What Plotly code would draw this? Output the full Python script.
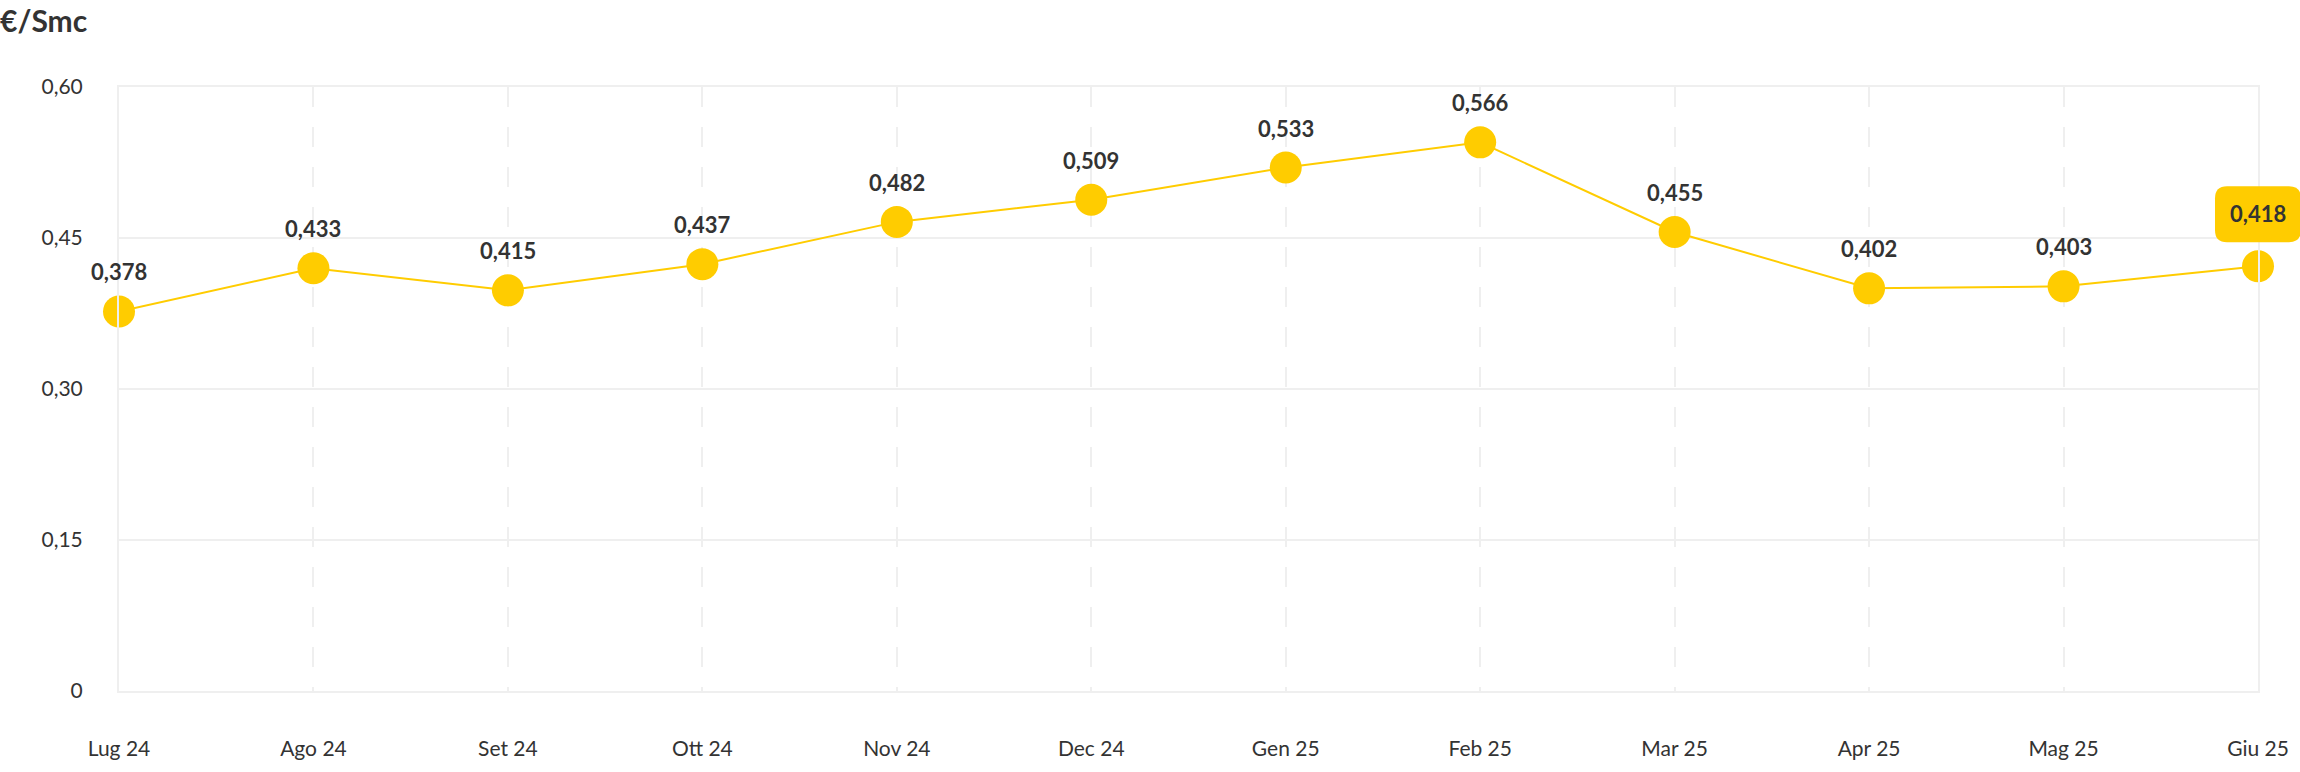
import plotly.graph_objects as go

# months shown on the x axis
months = ["Lug 24", "Ago 24", "Set 24", "Ott 24", "Nov 24", "Dec 24",
          "Gen 25", "Feb 25", "Mar 25", "Apr 25", "Mag 25", "Giu 25"]
# position of the points as drawn in the chart
plotted = [0.377, 0.420, 0.398, 0.424, 0.466, 0.488,
           0.520, 0.545, 0.456, 0.400, 0.402, 0.422]
# values printed above each point
labels = ["0,378", "0,433", "0,415", "0,437", "0,482", "0,509",
          "0,533", "0,566", "0,455", "0,402", "0,403", "0,418"]
y_ticks = [0, 0.15, 0.30, 0.45, 0.60]
y_tick_text = ["0", "0,15", "0,30", "0,45", "0,60"]

YELLOW = "#FFCC00"
TEXT = "#333333"
GRID = "#EFEFEF"
FONT = "Source Sans Pro, Lato, sans-serif"

fig = go.Figure()
fig.add_trace(go.Scatter(
    x=months, y=plotted, mode="lines+markers",
    line=dict(color=YELLOW, width=2),
    marker=dict(color=YELLOW, size=32),
    cliponaxis=False, hoverinfo="skip", showlegend=False,
))

# value labels above the points, the last one sits in a yellow box
for i, (m, v, t) in enumerate(zip(months, plotted, labels)):
    last = i == len(months) - 1
    fig.add_annotation(
        x=m, y=v, text="<b>" + t + "</b>", showarrow=False,
        yanchor="bottom", yshift=37 if last else 24,
        font=dict(family=FONT, size=22, color=TEXT),
    )

fig.add_shape(
    type="path", xref="paper", yref="paper",
    xsizemode="pixel", ysizemode="pixel",
    xanchor=1, yanchor=plotted[-1] / y_ticks[-1],
    path="M -31,24 L 31,24 Q 43,24 43,36 L 43,68 Q 43,80 31,80 "
         "L -31,80 Q -43,80 -43,68 L -43,36 Q -43,24 -31,24 Z",
    fillcolor=YELLOW, line=dict(width=0), layer="above",
)

fig.update_layout(
    width=2300, height=772,
    margin=dict(l=119, r=42, t=87, b=81),
    paper_bgcolor="white", plot_bgcolor="white",
    font=dict(family=FONT, size=22, color=TEXT),
    title=dict(text="<b>€/Smc</b>", x=0, xref="container", xanchor="left",
               y=0.986, yref="container", yanchor="top",
               font=dict(family=FONT, size=30, color=TEXT)),
)
fig.update_xaxes(
    type="category", range=[0, len(months) - 1], automargin=False,
    showgrid=True, gridcolor=GRID, gridwidth=2, griddash="20px,20px",
    showline=True, linecolor=GRID, linewidth=2, mirror=True,
    ticks="", ticklabelstandoff=38, tickfont=dict(size=21, color=TEXT),
    fixedrange=True,
)
fig.update_yaxes(
    range=[0, 0.6], tickvals=y_ticks, ticktext=y_tick_text, automargin=False,
    showgrid=True, gridcolor=GRID, gridwidth=2, zeroline=False,
    showline=True, linecolor=GRID, linewidth=2, mirror=True,
    ticks="", ticklabelstandoff=30, tickfont=dict(size=21, color=TEXT),
    fixedrange=True,
)

# the page body has a default 8px margin, drop it so the figure fills the window
fig.write_html("out.html", config={"displayModeBar": False},
               post_script="document.body.style.margin='0';")
